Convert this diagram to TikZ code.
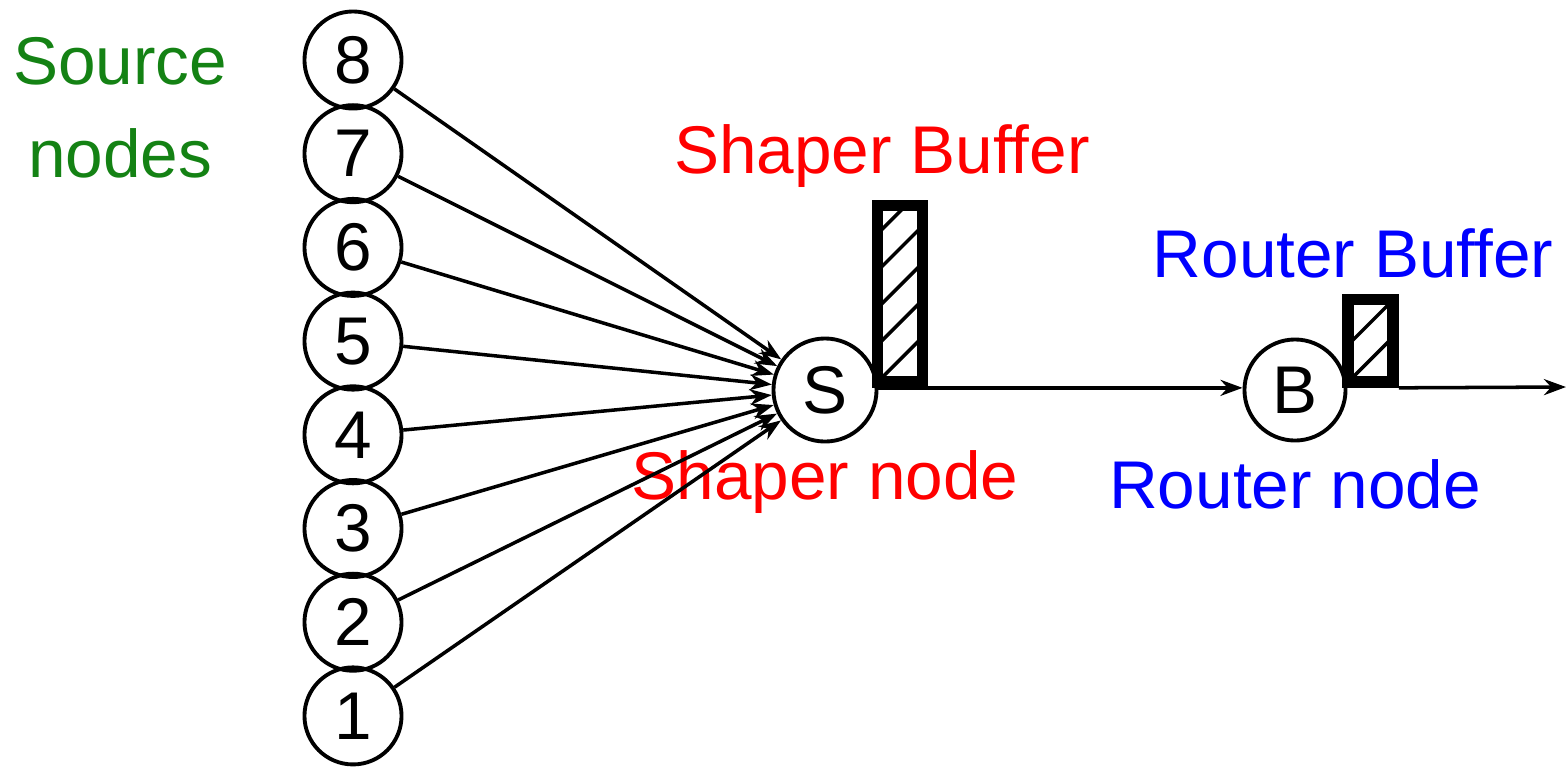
\documentclass[tikz,border=0pt]{standalone}
\usepackage{fontspec}
\setmainfont{Liberation Sans}
\usepackage{xcolor}
\usetikzlibrary{arrows.meta,positioning}
\definecolor{srcgreen}{RGB}{20,130,20}

\begin{document}
\begin{tikzpicture}[
  x=0.01cm, y=-0.01cm,
  every node/.style={font=\fontsize{19.2}{26.4}\selectfont},
  host/.style  ={circle, draw, line width=1.1pt, inner sep=0pt,
                 minimum size=0.97cm},
  hop/.style   ={circle, draw, line width=1.1pt, inner sep=0pt,
                 minimum size=1.03cm},
  buffer/.style={rectangle, draw, line width=3.3pt, inner sep=0pt,
                 minimum width=0.45cm,
                 path picture={
                   \foreach \k in {-12,...,12}
                     \draw[line width=1pt]
                       ([yshift=\k*3.7mm]path picture bounding box.south west)
                       -- ++(45:3cm);}},
  arr/.style   ={-{Stealth[length=2.2mm,width=1.6mm]}, line width=1pt}
]
  \useasboundingbox (0,0) rectangle (1566,769);

  % source nodes, 1 at the bottom
  \foreach \i in {1,...,8}
    \node[host] (src\i) at (353,{60+(8-\i)*93.7}) {\i};

  \node[hop] (shaper) at (825,390) {S};
  \node[hop, minimum size=1.01cm] (router) at (1295,390) {B};
  \coordinate (out) at (1566,387);

  \node[buffer, minimum height=1.765cm] (sbuf) at (900,293.75) {};
  \node[buffer, minimum height=0.825cm] (rbuf) at (1370.5,340.75) {};

  \node[text=srcgreen, align=center] (srclbl) at (120,108) {Source\\nodes};
  \node[text=red]  (sbuflbl) at (882,156)  {Shaper Buffer};
  \node[text=blue] (rbuflbl) at (1353,253) {Router Buffer};
  \node[text=red]  (slbl)    at (825,482)  {Shaper node};
  \node[text=blue] (rlbl)    at (1295,484) {Router node};

  \foreach \i in {1,...,8}
    \draw[arr] (src\i) -- (shaper);
  \draw[arr] (shaper.east |- sbuf.south) -- (router.west |- sbuf.south);
  \draw[arr] (rbuf.south east) -- (out);
\end{tikzpicture}
\end{document}
